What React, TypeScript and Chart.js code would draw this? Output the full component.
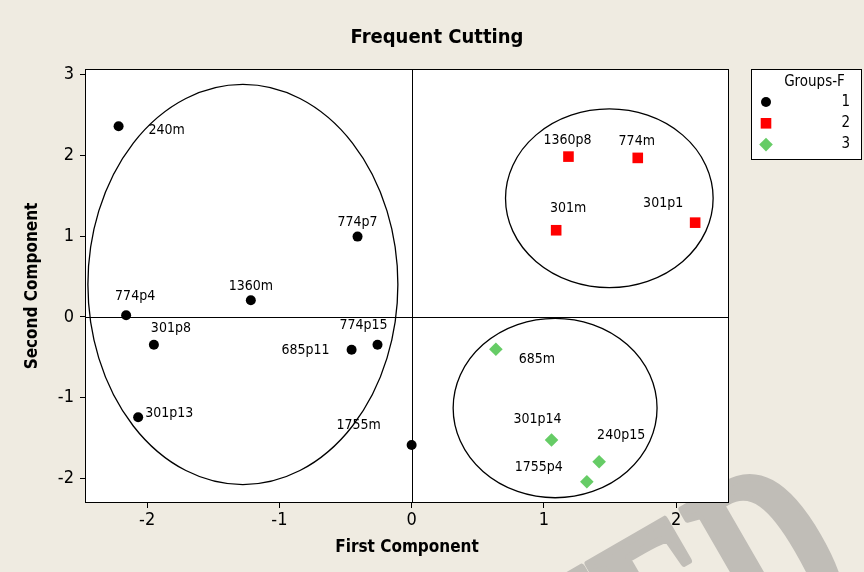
import React, { useEffect, useRef } from "react";
import { Chart, registerables } from "chart.js";

Chart.register(...registerables);

// ---- text ----
const chartTitle = "Frequent Cutting";
const xAxisTitle = "First Component";
const yAxisTitle = "Second Component";
const legendTitle = "Groups-F";
const groupNames = ["1", "2", "3"];
const watermarkText = "ACCEPTED";

// ---- group 1 ----
const group1Labels = ["240m", "774p7", "1360m", "774p4", "301p8", "685p11", "774p15", "301p13", "1755m"];
const group1X = [-2.216, -0.409, -1.216, -2.159, -1.949, -0.454, -0.258, -2.068, 0.0];
const group1Y = [2.361, 0.994, 0.206, 0.02, -0.344, -0.406, -0.344, -1.244, -1.587];

// ---- group 2 ----
const group2Labels = ["1360p8", "774m", "301m", "301p1"];
const group2X = [1.186, 1.71, 1.093, 2.144];
const group2Y = [1.985, 1.969, 1.073, 1.167];

// ---- group 3 ----
const group3Labels = ["685m", "301p14", "240p15", "1755p4"];
const group3X = [0.637, 1.058, 1.418, 1.325];
const group3Y = [-0.401, -1.525, -1.794, -2.042];

// ---- axes ----
const xTicks = [-2, -1, 0, 1, 2];
const yTicks = [-2, -1, 0, 1, 2, 3];
const xMin = -2.47;
const xMax = 2.4;
const yMin = -2.305;
const yMax = 3.07;

// ---- cluster ellipses (centre and semi-axes, data units) ----
const ellipseCX = [-1.276, 1.495, 1.085];
const ellipseCY = [0.401, 1.469, -1.129];
const ellipseRX = [1.172, 0.785, 0.771];
const ellipseRY = [2.478, 1.106, 1.111];

// ---- label placement (pixel offsets from each marker) ----
const group1LabelDX = [48, 0, 0, 9, 17, -46, -14, 31, -53];
const group1LabelDY = [4, -14, -14, -19, -16, 1, -19, -4, -20];
const group2LabelDX = [-1, -1, 12, -32];
const group2LabelDY = [-16, -17, -22, -19];
const group3LabelDX = [41, -14, 22, -48];
const group3LabelDY = [10, -21, -26, -14];

// ---- styles ----
const FONT = '"DejaVu Sans Condensed", "DejaVu Sans", sans-serif';
const BG = "#EFEBE1";
const COLORS = ["#000000", "#FF0000", "#66CC66"];
const STYLES = ["circle", "rect", "rectRot"] as const;
const RADII = [5, 7.5, 6.8];

function toPoints(xs: number[], ys: number[]) {
  return xs.map((x, i) => ({ x, y: ys[i] }));
}

const labelSets = [
  { labels: group1Labels, dx: group1LabelDX, dy: group1LabelDY },
  { labels: group2Labels, dx: group2LabelDX, dy: group2LabelDY },
  { labels: group3Labels, dx: group3LabelDX, dy: group3LabelDY },
];

function drawMarker(ctx: CanvasRenderingContext2D, kind: string, x: number, y: number, r: number, color: string) {
  ctx.fillStyle = color;
  ctx.beginPath();
  if (kind === "circle") {
    ctx.arc(x, y, r, 0, Math.PI * 2);
  } else if (kind === "rect") {
    const s = r * Math.SQRT1_2;
    ctx.rect(x - s, y - s, 2 * s, 2 * s);
  } else {
    ctx.moveTo(x - r, y);
    ctx.lineTo(x, y - r);
    ctx.lineTo(x + r, y);
    ctx.lineTo(x, y + r);
    ctx.closePath();
  }
  ctx.fill();
}

const backdrop = {
  id: "backdrop",
  beforeDraw(chart: any) {
    const { ctx, width, height, chartArea } = chart;
    ctx.save();
    ctx.fillStyle = BG;
    ctx.fillRect(0, 0, width, height);

    // faint diagonal watermark in the lower right corner
    ctx.save();
    ctx.translate(872, 612);
    ctx.rotate((-30 * Math.PI) / 180);
    ctx.scale(0.58, 1);
    ctx.font = 'bold 280px "Liberation Serif", serif';
    ctx.fillStyle = "#C0BDB7";
    ctx.strokeStyle = "#C0BDB7";
    ctx.lineWidth = 8;
    ctx.lineJoin = "round";
    ctx.textAlign = "right";
    ctx.textBaseline = "alphabetic";
    ctx.fillText(watermarkText, 0, 0);
    ctx.strokeText(watermarkText, 0, 0);
    ctx.restore();

    ctx.fillStyle = "#FFFFFF";
    ctx.fillRect(chartArea.left, chartArea.top, chartArea.right - chartArea.left, chartArea.bottom - chartArea.top);
    ctx.restore();
  },
  beforeDatasetsDraw(chart: any) {
    const { ctx, chartArea, scales } = chart;
    const xs = scales.x;
    const ys = scales.y;
    ctx.save();
    ctx.strokeStyle = "#000000";
    ctx.lineWidth = 1;
    // reference lines through the origin
    const x0 = Math.round(xs.getPixelForValue(0)) + 0.5;
    const y0 = Math.round(ys.getPixelForValue(0)) + 0.5;
    ctx.beginPath();
    ctx.moveTo(x0, chartArea.top);
    ctx.lineTo(x0, chartArea.bottom);
    ctx.moveTo(chartArea.left, y0);
    ctx.lineTo(chartArea.right, y0);
    ctx.stroke();

    // cluster ellipses
    ctx.lineWidth = 1.3;
    for (let i = 0; i < ellipseCX.length; i++) {
      const cx = xs.getPixelForValue(ellipseCX[i]);
      const cy = ys.getPixelForValue(ellipseCY[i]);
      const rx = Math.abs(xs.getPixelForValue(ellipseCX[i] + ellipseRX[i]) - cx);
      const ry = Math.abs(ys.getPixelForValue(ellipseCY[i] + ellipseRY[i]) - cy);
      ctx.beginPath();
      ctx.ellipse(cx, cy, rx, ry, 0, 0, Math.PI * 2);
      ctx.stroke();
    }
    ctx.restore();
  },
  afterDraw(chart: any) {
    const { ctx, chartArea, width } = chart;
    ctx.save();

    // plot frame
    ctx.strokeStyle = "#000000";
    ctx.lineWidth = 1;
    ctx.strokeRect(
      Math.round(chartArea.left) + 0.5,
      Math.round(chartArea.top) + 0.5,
      Math.round(chartArea.right - chartArea.left) - 1,
      Math.round(chartArea.bottom - chartArea.top) - 1
    );

    // point labels
    ctx.fillStyle = "#000000";
    ctx.font = `14px ${FONT}`;
    ctx.textAlign = "center";
    ctx.textBaseline = "middle";
    chart.data.datasets.forEach((ds: any, di: number) => {
      const meta = chart.getDatasetMeta(di);
      const set = labelSets[di];
      meta.data.forEach((el: any, i: number) => {
        ctx.fillText(set.labels[i], el.x + set.dx[i], el.y + set.dy[i]);
      });
    });

    // chart title
    ctx.font = `bold 20px ${FONT}`;
    ctx.fillText(chartTitle, width / 2 + 5, 38);

    // legend
    const lx = 751.5;
    const ly = 69.5;
    const lw = 110;
    const lh = 90;
    ctx.fillStyle = "#FFFFFF";
    ctx.fillRect(lx, ly, lw, lh);
    ctx.strokeRect(lx, ly, lw, lh);
    ctx.fillStyle = "#000000";
    ctx.font = `15px ${FONT}`;
    ctx.textAlign = "center";
    ctx.fillText(legendTitle, 814.5, 82);
    groupNames.forEach((name, i) => {
      const yy = 102 + i * 21.3;
      drawMarker(ctx, STYLES[i], 766, yy, RADII[i], COLORS[i]);
      ctx.fillStyle = "#000000";
      ctx.textAlign = "right";
      ctx.fillText(name, 850, yy);
    });
    ctx.restore();
  },
};

export default function App() {
  const canvasRef = useRef<HTMLCanvasElement | null>(null);

  useEffect(() => {
    const canvas = canvasRef.current;
    if (!canvas) return;
    const groups = [
      toPoints(group1X, group1Y),
      toPoints(group2X, group2Y),
      toPoints(group3X, group3Y),
    ];
    const chart = new Chart(canvas, {
      type: "scatter",
      data: {
        datasets: groups.map((data, i) => ({
          label: groupNames[i],
          data,
          pointStyle: STYLES[i],
          pointRadius: RADII[i],
          pointHoverRadius: RADII[i],
          pointBackgroundColor: COLORS[i],
          pointBorderWidth: 0,
          borderWidth: 0,
        })),
      },
      options: {
        animation: false,
        responsive: false,
        devicePixelRatio: 1,
        layout: { padding: { top: 69, right: 135, left: 0, bottom: 0 } },
        plugins: {
          legend: { display: false },
          tooltip: { enabled: false },
          title: { display: false },
        },
        scales: {
          x: {
            type: "linear",
            min: xMin,
            max: xMax,
            afterFit: (scale: any) => {
              scale.height = 69;
            },
            afterBuildTicks: (scale: any) => {
              scale.ticks = xTicks.map((value) => ({ value }));
            },
            grid: { display: true, drawOnChartArea: false, drawTicks: true, tickLength: 5, color: "#000000" },
            border: { display: false },
            ticks: { color: "#000000", font: { family: FONT, size: 18 }, padding: 2, maxRotation: 0, autoSkip: false },
            title: {
              display: true,
              text: xAxisTitle,
              color: "#000000",
              font: { family: FONT, size: 17, weight: "bold" },
              padding: { top: 0, bottom: 13.8 },
            },
          },
          y: {
            type: "linear",
            min: yMin,
            max: yMax,
            afterFit: (scale: any) => {
              scale.width = 85;
            },
            afterBuildTicks: (scale: any) => {
              scale.ticks = yTicks.map((value) => ({ value }));
            },
            grid: { display: true, drawOnChartArea: false, drawTicks: true, tickLength: 5, color: "#000000" },
            border: { display: false },
            ticks: { color: "#000000", font: { family: FONT, size: 18 }, padding: 6, autoSkip: false },
            title: {
              display: true,
              text: yAxisTitle,
              color: "#000000",
              font: { family: FONT, size: 17, weight: "bold" },
              padding: { top: 22.8, bottom: 0 },
            },
          },
        },
      },
      plugins: [backdrop],
    });
    return () => chart.destroy();
  }, []);

  return (
    <div style={{ position: "fixed", left: 0, top: 0, width: 864, height: 572 }}>
      <canvas ref={canvasRef} width={864} height={572} style={{ display: "block" }} />
    </div>
  );
}
